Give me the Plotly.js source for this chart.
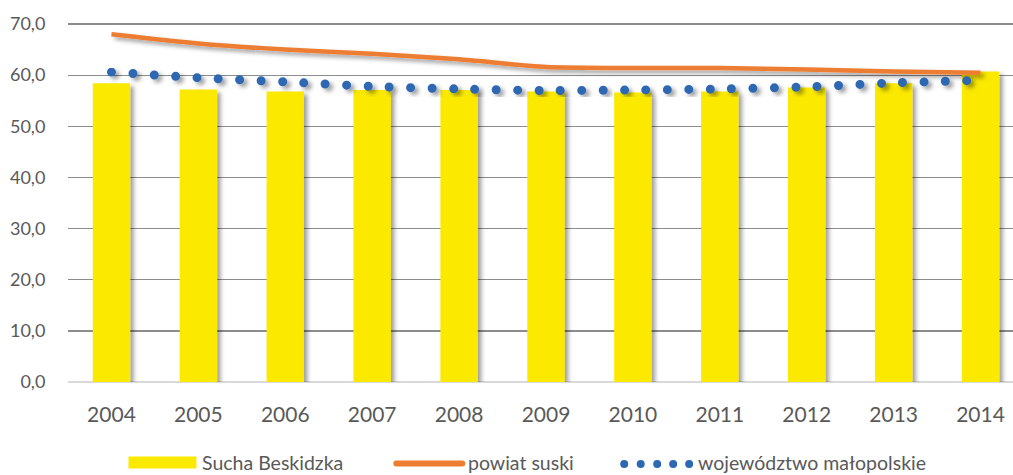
<!DOCTYPE html>
<html><head><meta charset="utf-8">
<script src="https://cdn.plot.ly/plotly-3.0.1.min.js"></script>
<style>
html,body{margin:0;padding:0;overflow:hidden;background:#fff;}
#wrap{width:1013px;height:475px;overflow:hidden;position:relative;}
</style></head><body><div id="wrap"><div id="chart"></div></div>
<script>
const years = ['2004','2005','2006','2007','2008','2009','2010','2011','2012','2013','2014'];
const suchaBeskidzka = [58.4,57.2,56.8,57.1,57.1,56.8,56.6,56.8,57.6,58.4,60.7];
const powiatSuski = [68.0,66.2,65.0,64.2,63.1,61.6,61.4,61.4,61.1,60.7,60.5];
const wojMalopolskie = [60.6,59.5,58.7,57.8,57.3,57.0,57.1,57.3,57.7,58.5,59.0];
const yTicks = [0,10,20,30,40,50,60,70];
const yTickLabels = yTicks.map(v => v.toFixed(1).replace('.', ','));
const seriesNames = ['Sucha Beskidzka','powiat suski','województwo małopolskie'];

const L = 67.5, R = 1024, T = 22, B = 382, W = 1030, H = 475;
const px = x => (x - L) / (R - L);
const py = y => (B - y) / (B - T);
const textColor = '#595959';
const FONT = 'Lato, "Open Sans", sans-serif';
const LEG_Y = 462.5;

const traces = [
  {type:'bar', x:years, y:suchaBeskidzka, name:seriesNames[0], marker:{color:'#FBE900'}, width:0.43},
  {type:'scatter', mode:'lines', x:years, y:powiatSuski, name:seriesNames[1],
   line:{color:'#ED7D31', width:4.5, shape:'spline', smoothing:0.6}},
  {type:'scatter', mode:'lines', x:years, y:wojMalopolskie, name:seriesNames[2],
   line:{color:'#2D68B2', width:9, dash:'0px,21.4px', shape:'spline', smoothing:0.6}}
];

const shapes = [
  {type:'rect', xref:'paper', yref:'paper', x0:px(128), x1:px(196), y0:py(LEG_Y+6), y1:py(LEG_Y-6),
   fillcolor:'#FBE900', line:{width:0}},
  {type:'line', xref:'paper', yref:'paper', x0:px(396), x1:px(462), y0:py(LEG_Y+1), y1:py(LEG_Y+1),
   line:{color:'#ED7D31', width:6}}
];
[624,640.5,657,673,689].forEach(cx => shapes.push({
  type:'circle', xref:'paper', yref:'paper', x0:px(cx-4), x1:px(cx+4), y0:py(LEG_Y+5.5), y1:py(LEG_Y-2.5),
  fillcolor:'#2D68B2', line:{width:0}
}));
const legendX = [201, 467, 697];
const annotations = seriesNames.map((n,i) => ({
  text:n, xref:'paper', yref:'paper', x:px(legendX[i]), y:py(LEG_Y - 0.5), xanchor:'left', yanchor:'middle',
  showarrow:false, borderpad:0, font:{family:FONT, size:19.5, color:textColor}
}));

const layout = {
  width:W, height:H, margin:{l:L, r:W-R, t:T, b:H-B},
  paper_bgcolor:'#fff', plot_bgcolor:'#fff', showlegend:false,
  separators:', ',
  font:{family:FONT, color:textColor},
  xaxis:{type:'category', showgrid:false, zeroline:false, showline:false,
    ticks:'outside', ticklen:14, tickcolor:'rgba(0,0,0,0)',
    tickfont:{family:FONT, size:21, color:textColor}},
  yaxis:{range:[0,70.4], tickvals:yTicks, ticktext:yTickLabels, showgrid:true, gridcolor:'#8c8c8c', gridwidth:1.3,
    zeroline:true, zerolinecolor:'#d9d9d9', zerolinewidth:2, showline:false,
    ticks:'outside', ticklen:18, tickcolor:'rgba(0,0,0,0)',
    tickfont:{family:FONT, size:18, color:textColor}},
  shapes:shapes, annotations:annotations, bargap:0.57
};

Plotly.newPlot('chart', traces, layout, {staticPlot:true, displayModeBar:false}).then(gd => {
  const svg = gd.querySelector('.main-svg');
  const NS = 'http://www.w3.org/2000/svg';
  let defs = svg.querySelector('defs');
  const f = document.createElementNS(NS,'filter');
  f.setAttribute('id','shd'); f.setAttribute('x','-20%'); f.setAttribute('y','-20%');
  f.setAttribute('width','150%'); f.setAttribute('height','150%');
  const ds = document.createElementNS(NS,'feDropShadow');
  ds.setAttribute('dx','3.5'); ds.setAttribute('dy','3'); ds.setAttribute('stdDeviation','2.2');
  ds.setAttribute('flood-color','#000'); ds.setAttribute('flood-opacity','0.38');
  f.appendChild(ds); defs.appendChild(f);
  gd.querySelectorAll('.barlayer .point path').forEach(p => p.setAttribute('filter','url(#shd)'));
  const lines = gd.querySelectorAll('.scatterlayer .trace path.js-line');
  lines.forEach(p => p.setAttribute('filter','url(#shd)'));
  if (lines[1]) lines[1].style.strokeLinecap = 'round';
  gd.querySelectorAll('.layer-above .shapelayer path').forEach((p,i) => { if(i===1) p.style.strokeLinecap='round'; });
});
</script></body></html>
